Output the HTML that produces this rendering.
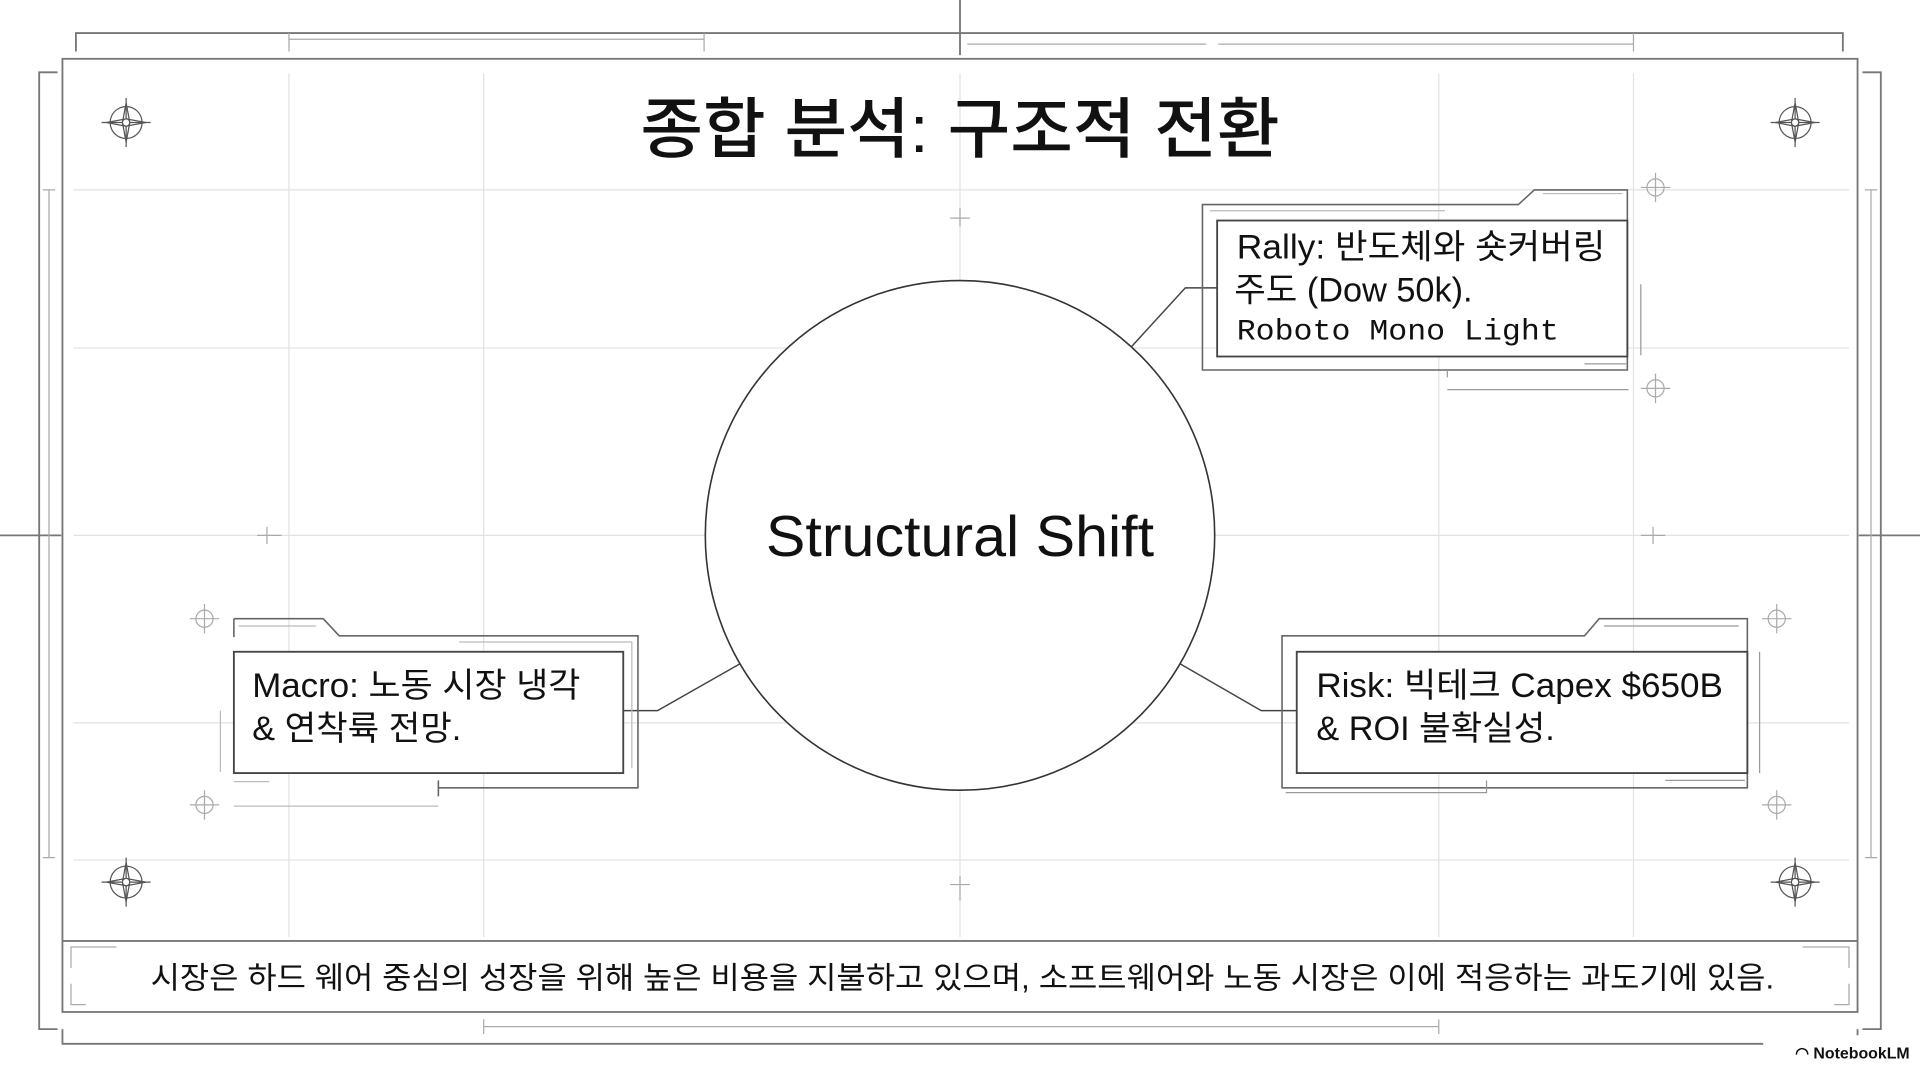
<!DOCTYPE html>
<html><head><meta charset="utf-8"><style>
html,body{margin:0;padding:0;background:#fff;width:1920px;height:1072px;overflow:hidden}
svg{display:block}
text{font-family:"Liberation Sans","Noto Sans CJK KR",sans-serif;fill:#111}
</style></head><body>
<svg width="1920" height="1072" viewBox="0 0 1568 875" preserveAspectRatio="none">
<g stroke="#e2e2e2" stroke-width="1" fill="none">
<line x1="236" y1="60" x2="236" y2="765"/><line x1="395" y1="60" x2="395" y2="765"/>
<line x1="784" y1="60" x2="784" y2="765"/><line x1="1175" y1="60" x2="1175" y2="765"/>
<line x1="1334" y1="60" x2="1334" y2="765"/>
<line x1="60" y1="155" x2="1510" y2="155"/><line x1="60" y1="284" x2="1510" y2="284"/>
<line x1="60" y1="437" x2="1510" y2="437"/><line x1="60" y1="590" x2="1510" y2="590"/>
<line x1="60" y1="702" x2="1510" y2="702"/>
</g>
<g stroke="#777" stroke-width="1.5" fill="none">
<rect x="51" y="48" width="1466" height="778"/>
<path d="M62 42V27H1505V42"/><path d="M47 59H32V840H47"/><path d="M1521 59H1536V840H1521"/>
<path d="M51 840V852H1517V840"/>
<line x1="784" y1="0" x2="784" y2="45"/><line x1="0" y1="437" x2="50" y2="437"/><line x1="1518" y1="437" x2="1568" y2="437"/>
</g>
<g stroke="#aaa" stroke-width="1" fill="none">
<path d="M236 32H575M236 27V42M575 27V42M790 36H985M995 36H1334M1334 27V42"/>
<path d="M395 838H1175M395 832V844M1175 832V844"/>
<path d="M40 155V700M35 155H45M35 700H45"/>
<path d="M1528 155V700M1523 155H1533M1523 700H1533"/>
<path d="M58 790V773H95M1472 773H1510V790M58 803V820H70M1498 820H1510V803"/>
<path d="M784 170V185M776 178H792M784 715V735M776 722H792M210 437H230M218 430V444M1340 437H1360M1350 430V444"/>
</g>
<line x1="51" y1="768" x2="1517" y2="768" stroke="#777" stroke-width="1.5"/>
<g stroke="#555" fill="none" stroke-width="1">
<g transform="translate(103,100)"><circle r="13"/><path d="M-20 0H20M0 -20V20"/><path d="M0 -16L3 0L0 16L-3 0ZM-16 0L0 -3L16 0L0 3Z"/><circle r="3" fill="#fff"/></g>
<g transform="translate(1466,100)"><circle r="13"/><path d="M-20 0H20M0 -20V20"/><path d="M0 -16L3 0L0 16L-3 0ZM-16 0L0 -3L16 0L0 3Z"/><circle r="3" fill="#fff"/></g>
<g transform="translate(103,720)"><circle r="13"/><path d="M-20 0H20M0 -20V20"/><path d="M0 -16L3 0L0 16L-3 0ZM-16 0L0 -3L16 0L0 3Z"/><circle r="3" fill="#fff"/></g>
<g transform="translate(1466,720)"><circle r="13"/><path d="M-20 0H20M0 -20V20"/><path d="M0 -16L3 0L0 16L-3 0ZM-16 0L0 -3L16 0L0 3Z"/><circle r="3" fill="#fff"/></g>
</g>
<g stroke="#aaa" fill="none" stroke-width="1">
<g transform="translate(1352,153)"><circle r="7"/><path d="M-12 0H12M0 -12V12"/></g>
<g transform="translate(1352,317)"><circle r="7"/><path d="M-12 0H12M0 -12V12"/></g>
<g transform="translate(167,505)"><circle r="7"/><path d="M-12 0H12M0 -12V12"/></g>
<g transform="translate(167,657)"><circle r="7"/><path d="M-12 0H12M0 -12V12"/></g>
<g transform="translate(1451,505)"><circle r="7"/><path d="M-12 0H12M0 -12V12"/></g>
<g transform="translate(1451,657)"><circle r="7"/><path d="M-12 0H12M0 -12V12"/></g>
</g>
<circle cx="784" cy="437" r="208" fill="#fff" stroke="#333" stroke-width="1.3"/>
<text x="784" y="454" text-anchor="middle" font-size="47" textLength="317" lengthAdjust="spacingAndGlyphs">Structural Shift</text>
<g stroke="#444" stroke-width="1.2" fill="none">
<path d="M924 283L968 235H994"/><path d="M604 542L537 580H509"/><path d="M964 542L1030 580H1059"/>
</g>
<g fill="none">
<path d="M982 167H1240L1253 155H1329V302H982Z" stroke="#666" stroke-width="1.3"/>
<rect x="994" y="180" width="335" height="111" stroke="#444" stroke-width="1.5" fill="#fff"/>
<path d="M1182 302V308M1182 318H1330M1340 232V290M1294 297H1328" stroke="#999"/>
<path d="M1260 158H1325M988 172H1180" stroke="#bbb"/>
</g>
<text x="1010" y="211" font-size="28" textLength="301" lengthAdjust="spacingAndGlyphs">Rally: 반도체와 숏커버링</text>
<text x="1008" y="246" font-size="28">주도 (Dow 50k).</text>
<text x="1010" y="277" font-size="24" textLength="263" lengthAdjust="spacingAndGlyphs" style="font-family:'Liberation Mono',monospace">Roboto Mono Light</text>
<g fill="none">
<path d="M191 505H264L277 519H521V643H358" stroke="#666" stroke-width="1.3"/>
<path d="M191 505V520M358 637V650" stroke="#666" stroke-width="1.3"/>
<rect x="191" y="532" width="318" height="99" stroke="#444" stroke-width="1.5" fill="#fff"/>
<path d="M195 511H258M375 524H516V627M180 580V630M191 658H358M191 638H220" stroke="#bbb"/>
</g>
<text x="206" y="569" font-size="28" textLength="268" lengthAdjust="spacingAndGlyphs">Macro: 노동 시장 냉각</text>
<text x="206" y="604" font-size="28">&amp; 연착륙 전망.</text>
<g fill="none">
<path d="M1047 519H1294L1306 505H1427V643H1047Z" stroke="#666" stroke-width="1.3"/>
<rect x="1059" y="532" width="368" height="99" stroke="#444" stroke-width="1.5" fill="#fff"/>
<path d="M1214 637V647H1050M1437 532V631M1360 637H1425M1310 511H1420" stroke="#999"/>
</g>
<text x="1075" y="569" font-size="28" textLength="332" lengthAdjust="spacingAndGlyphs">Risk: 빅테크 Capex $650B</text>
<text x="1075" y="604" font-size="28">&amp; ROI 불확실성.</text>
<text x="784" y="124" text-anchor="middle" font-size="54" textLength="522" lengthAdjust="spacingAndGlyphs" style="font-weight:500">종합 분석: 구조적 전환</text>
<text x="786" y="807" text-anchor="middle" font-size="25" textLength="1326" lengthAdjust="spacingAndGlyphs">시장은 하드 웨어 중심의 성장을 위해 높은 비용을 지불하고 있으며, 소프트웨어와 노동 시장은 이에 적응하는 과도기에 있음.</text>
<rect x="1440" y="845" width="128" height="30" fill="#fff"/>
<text x="1466" y="864" font-size="13" style="font-weight:bold">◠ NotebookLM</text>
</svg>
</body></html>
